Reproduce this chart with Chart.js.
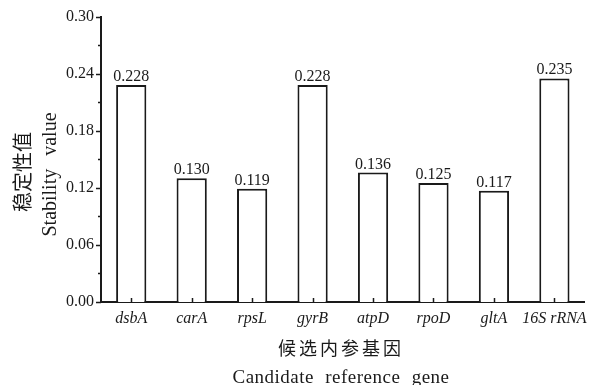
<!DOCTYPE html>
<html>
<head>
<meta charset="utf-8">
<script src="https://cdn.jsdelivr.net/npm/chart.js@4/dist/chart.umd.min.js"></script>
<style>
  html, body { margin: 0; padding: 0; background: #fff; }
  #wrap { width: 594px; height: 385px; }
</style>
</head>
<body>
<div id="wrap"><canvas id="c" width="594" height="385"></canvas></div>
<script>
// Candidate reference genes and their stability values
const genes = ['dsbA', 'carA', 'rpsL', 'gyrB', 'atpD', 'rpoD', 'gltA', '16S rRNA'];
const stability = [0.228, 0.130, 0.119, 0.228, 0.136, 0.125, 0.117, 0.235];
const yTicks = [0.00, 0.06, 0.12, 0.18, 0.24, 0.30];
const yMinorTicks = [0.03, 0.09, 0.15, 0.21, 0.27];

const SERIF = "'Liberation Serif', 'Times New Roman', serif";
const CJK = "'Noto Sans CJK SC', sans-serif";
const INK = '#1a1a1a';

// Draws text rotated a quarter turn counter-clockwise, centred on (cx, cy)
function rotatedText(ctx, text, font, cx, cy, baseline, wordSpacing) {
  ctx.save();
  ctx.font = font;
  ctx.textAlign = 'center';
  ctx.textBaseline = baseline;
  ctx.wordSpacing = wordSpacing || '0px';
  ctx.translate(cx, cy);
  ctx.rotate(-Math.PI / 2);
  ctx.fillText(text, 0, 0);
  ctx.restore();
}

// Tick marks, value labels and axis titles
const decorations = {
  id: 'decorations',
  afterDraw(chart) {
    const ctx = chart.ctx;
    const x = chart.scales.x, y = chart.scales.y;
    const area = chart.chartArea;
    ctx.save();
    ctx.strokeStyle = INK;
    ctx.lineWidth = 1.5;
    // y ticks, outward
    yTicks.forEach(v => {
      const py = Math.round(y.getPixelForValue(v)) + 0.5;
      ctx.beginPath(); ctx.moveTo(area.left - 5, py); ctx.lineTo(area.left, py); ctx.stroke();
    });
    yMinorTicks.forEach(v => {
      const py = Math.round(y.getPixelForValue(v)) + 0.5;
      ctx.beginPath(); ctx.moveTo(area.left - 3, py); ctx.lineTo(area.left, py); ctx.stroke();
    });
    // x ticks, inward at category centres
    genes.forEach((g, i) => {
      const px = Math.round(x.getPixelForValue(i)) + 0.5;
      ctx.beginPath(); ctx.moveTo(px, area.bottom); ctx.lineTo(px, area.bottom - 4); ctx.stroke();
    });

    // value labels above bars
    ctx.fillStyle = INK;
    ctx.font = '16px ' + SERIF;
    ctx.textAlign = 'center';
    ctx.textBaseline = 'alphabetic';
    chart.getDatasetMeta(0).data.forEach((bar, i) => {
      ctx.fillText(stability[i].toFixed(3), bar.x, bar.y - 4);
    });

    // y axis title (two lines, rotated)
    rotatedText(ctx, '稳定性值', '20px ' + CJK, 22, 172, 'middle');
    rotatedText(ctx, 'Stability value', '20px ' + SERIF, 56, 174.5, 'alphabetic', '8px');

    // x axis title (two lines)
    ctx.textBaseline = 'middle';
    ctx.font = '18px ' + CJK;
    ctx.letterSpacing = '3px';
    ctx.fillText('候选内参基因', 341, 348);
    ctx.letterSpacing = '0.5px';
    ctx.wordSpacing = '6px';
    ctx.font = '19px ' + SERIF;
    ctx.textBaseline = 'alphabetic';
    ctx.fillText('Candidate reference gene', 341, 383);
    ctx.restore();
  }
};

new Chart(document.getElementById('c'), {
  type: 'bar',
  data: {
    labels: genes,
    datasets: [{
      data: stability,
      backgroundColor: '#ffffff',
      borderColor: INK,
      borderWidth: 2,
      borderSkipped: 'bottom',
      barPercentage: 0.5,
      categoryPercentage: 1.0
    }]
  },
  options: {
    responsive: false,
    devicePixelRatio: 1,
    animation: false,
    layout: { padding: { left: 0, right: 6, top: 15, bottom: 0 } },
    plugins: { legend: { display: false }, tooltip: { enabled: false } },
    scales: {
      x: {
        offset: true,
        grid: { display: false, drawTicks: false },
        border: { display: true, color: INK, width: 2 },
        ticks: {
          color: INK,
          padding: 7,
          font: { family: SERIF, size: 16, style: 'italic' },
          maxRotation: 0, autoSkip: false
        },
        afterFit(s) { s.height = 83; }
      },
      y: {
        min: 0, max: 0.30,
        grid: { display: false, drawTicks: false },
        border: { display: true, color: INK, width: 2 },
        ticks: {
          color: INK,
          padding: 7,
          stepSize: 0.06,
          font: { family: SERIF, size: 16 },
          callback: v => Number(v).toFixed(2)
        },
        afterFit(s) { s.width = 101; }
      }
    }
  },
  plugins: [decorations]
});
</script>
</body>
</html>
